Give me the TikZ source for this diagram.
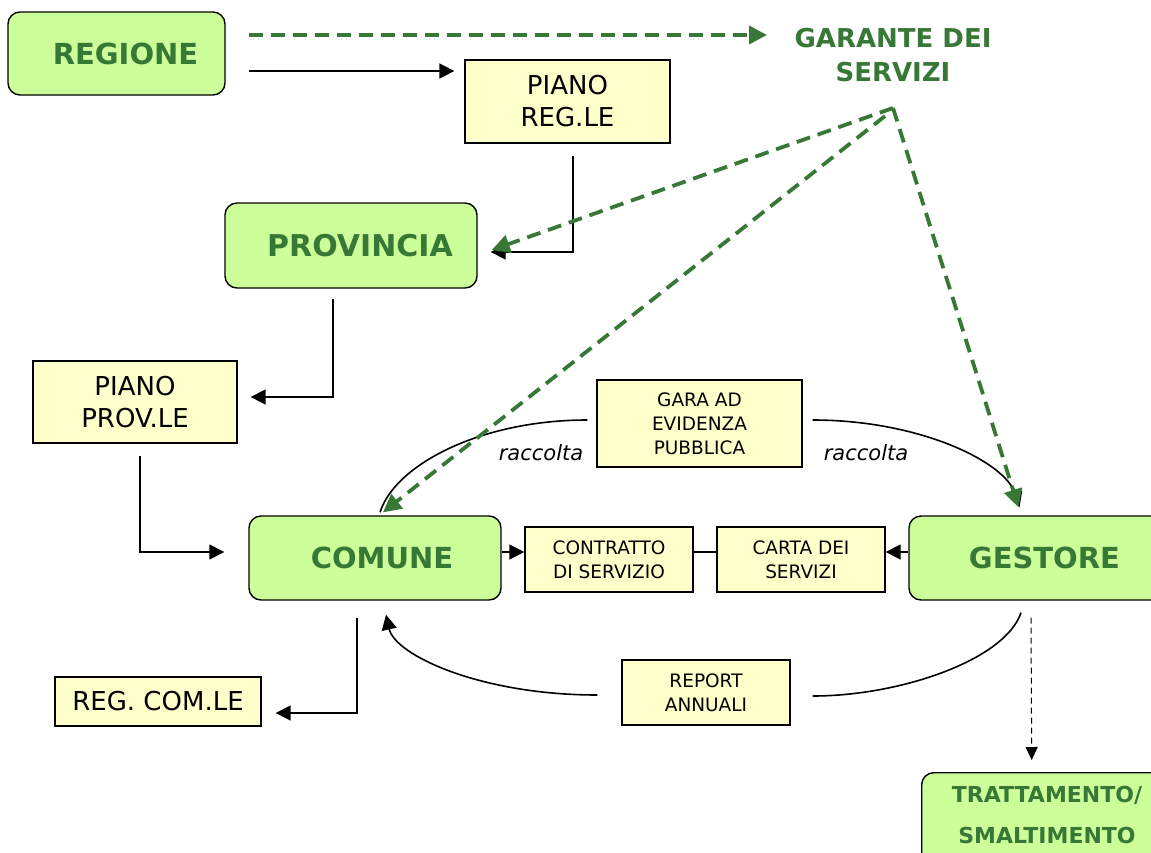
\documentclass[tikz,border=0pt]{standalone}
\usepackage{fontspec}
\setmainfont{DejaVu Sans}
\usetikzlibrary{arrows.meta}
\definecolor{gfill}{HTML}{CCFF99}
\definecolor{gtxt}{RGB}{56,120,54}
\definecolor{yfill}{HTML}{FFFFCC}
\begin{document}
\begin{tikzpicture}[x=1pt,y=-1pt,
  gbox/.style={draw=black, line width=1.4pt, fill=gfill, rounded corners=12pt, inner sep=0pt,
    font=\fontsize{29}{34}\selectfont\bfseries, text=gtxt, align=center},
  ybox/.style={draw=black, line width=1.3pt, fill=yfill, inner sep=0pt, align=center},
  bigtxt/.style={font=\fontsize{26}{32}\selectfont},
  smalltxt/.style={font=\fontsize{18.5}{24}\selectfont},
  conn/.style={line width=1.6pt, -{Triangle[length=15pt,width=15pt]}},
  plain/.style={line width=1.6pt},
  gdash/.style={draw=gtxt, line width=3.8pt, dash pattern=on 14pt off 8pt, -{Triangle[length=18pt,width=18pt]}},
  thindash/.style={line width=1pt, dash pattern=on 6pt off 4pt, -{Triangle[length=13pt,width=12pt]}},
  lbl/.style={font=\fontsize{21}{24}\selectfont\itshape},
]
\clip (0,0) rectangle (1151,852);

% green boxes
\node[gbox, minimum width=217pt, minimum height=83pt, font=\fontsize{29}{34}\selectfont\bfseries] (reg) at (116.5,53.5) {\hspace*{18pt}REGIONE};
\node[gbox, minimum width=252pt, minimum height=85pt, font=\fontsize{30}{34}\selectfont\bfseries] (prov) at (351,245.5) {\hspace*{18pt}PROVINCIA};
\node[gbox, minimum width=252pt, minimum height=84pt] (com) at (375,558) {\hspace*{14pt}COMUNE};
\node[gbox, minimum width=261pt, minimum height=84pt] (gest) at (1039.5,558) {\hspace*{10pt}GESTORE};
\node[gbox, anchor=north west, minimum width=260pt, minimum height=128pt] (tratt) at (921,772) {};
\node[font=\fontsize{22}{41}\selectfont\bfseries, text=gtxt, align=center] (trattlbl) at (1047,815) {TRATTAMENTO/\\SMALTIMENTO};

% garante (text only)
\node[font=\fontsize{26}{34}\selectfont\bfseries, text=gtxt, align=center] (gar) at (893,55) {GARANTE DEI\\SERVIZI};
\coordinate (garW) at (767,35);
\coordinate (gapex) at (893,108);

% yellow boxes
\node[ybox, bigtxt, minimum width=205pt, minimum height=83pt] (preg) at (567.5,101.5) {PIANO\\REG.LE};
\node[ybox, bigtxt, minimum width=204pt, minimum height=82pt] (pprov) at (135,402) {PIANO\\PROV.LE};
\node[ybox, bigtxt, minimum width=206pt, minimum height=49pt] (regcom) at (158,701.5) {REG. COM.LE};
\node[ybox, smalltxt, minimum width=205pt, minimum height=87pt] (gara) at (699.5,423.5) {GARA AD\\EVIDENZA\\PUBBLICA};
\node[ybox, smalltxt, minimum width=168pt, minimum height=65pt] (contr) at (609,559.5) {CONTRATTO\\DI SERVIZIO};
\node[ybox, smalltxt, minimum width=168pt, minimum height=65pt] (carta) at (801,559.5) {CARTA DEI\\SERVIZI};
\node[ybox, smalltxt, minimum width=168pt, minimum height=65pt] (report) at (706,692.5) {REPORT\\ANNUALI};

% labels
\node[lbl] (racc1) at (541,453) {raccolta};
\node[lbl] (racc2) at (866,453) {raccolta};

% black connectors
\draw[conn] ([shift={(23,17.5)}]reg.east) -- ([shift={(-10,-30.5)}]preg.west);
\draw[conn] ([shift={(5.5,12)}]preg.south) |- ([shift={(13,6.5)}]prov.east);
\draw[conn] ([shift={(-18,10)}]prov.south) |- ([shift={(13,-5)}]pprov.east);
\draw[conn] ([shift={(5,12)}]pprov.south) |- ([shift={(-24,-6)}]com.west);
\draw[conn] ([shift={(-18,17)}]com.south) |- ([shift={(14,11.5)}]regcom.east);
\draw[conn] ([shift={(0,-6)}]com.east) -- ([shift={(0,-7.5)}]contr.west);
\draw[plain] ([shift={(0,-7.5)}]contr.east) -- ([shift={(0,-7.5)}]carta.west);
\draw[conn] ([shift={(0,-6)}]gest.west) -- ([shift={(0,-7.5)}]carta.east);

% curves
\draw[plain] ([shift={(-9,-3.5)}]gara.west) .. controls (480,420) and (395,465) .. ([shift={(5,-3)}]com.north);
\draw[conn] ([shift={(10,-3.5)}]gara.east) .. controls (920,420) and (1005,462) .. ([shift={(-20,-8)}]gest.north);
\draw[plain] ([shift={(-18.5,12)}]gest.south) .. controls (1005,660) and (900,696) .. ([shift={(22,3.5)}]report.east);
\draw[conn] ([shift={(-24,2.5)}]report.west) .. controls (480,695) and (395,655) .. ([shift={(11,14)}]com.south);

% dashed to tratt
\draw[thindash] ([shift={(-8.5,17)}]gest.south) -- ([shift={(-20,-12)}]tratt.north);

% green dashed connectors
\draw[gdash] ([shift={(23,-18.5)}]reg.east) -- (garW);
\draw[gdash] (gapex) -- ([shift={(14,4.5)}]prov.east);
\draw[gdash] ([shift={(-8,8)}]gapex) -- ([shift={(8,-3)}]com.north);
\draw[gdash] (gapex) -- ([shift={(-21,-8)}]gest.north);
\end{tikzpicture}
\end{document}
